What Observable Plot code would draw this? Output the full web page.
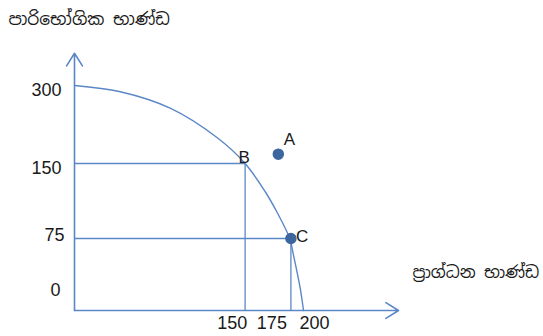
<!DOCTYPE html>
<html>
<head>
<meta charset="utf-8">
<script src="https://cdn.jsdelivr.net/npm/d3@7"></script>
<script src="https://cdn.jsdelivr.net/npm/@observablehq/plot@0.6"></script>
<style>
  html, body { margin: 0; padding: 0; background: #fff; }
  #chart svg { display: block; }
</style>
</head>
<body>
<div id="chart"></div>
<script>
// ---- data ----
const yTitle = "පාරිභෝගික භාණ්ඩ";
const xTitle = "ප්‍රාග්ධන භාණ්ඩ";
const yTicks = [0, 75, 150, 300];
const xTicks = [150, 175, 200];
const axisEnds = {x: 283, y: 362};
// production possibility frontier (capital, consumer)
const frontierX = [0, 40, 84, 125, 149, 167, 177, 188, 191, 197, 200];
const frontierY = [300, 288, 256, 199, 150, 121, 101, 75, 59, 24, 0];
const pointNames = ["A", "B", "C"];
const pointX = [178, 149, 189];
const pointY = [168, 150, 75];
const pointDot = [true, false, true];

const frontier = frontierX.map((x, i) => ({x, y: frontierY[i]}));
const points = pointNames.map((name, i) => ({name, x: pointX[i], y: pointY[i], dot: pointDot[i]}));
const guides = points.filter(p => p.name !== "A");

const blue = "#5b87c7";
const dotBlue = "#3d669f";
const ink = "#1a1a1a";
const font = "Liberation Sans, Arial, sans-serif";
const siFont = "'Noto Sans Sinhala', 'Iskoola Pota', 'Noto Sans', sans-serif";

const xLabelDx = {150: -14, 175: -3, 200: 11};

// the drawing is schematic: tick values are not evenly spaced on the y axis
const yWarp = d3.scaleLinear().domain([0, 75, 150, 300]).range([0, 72, 147, 225]);

const chart = Plot.plot({
  width: 543,
  height: 336,
  margin: 0,
  style: {fontFamily: font, background: "#fff"},
  x: {domain: [0, 200], range: [74, 303], axis: null},
  y: {transform: yWarp, domain: [0, 225], range: [310, 85], axis: null},
  marks: [
    // guide lines
    Plot.link(guides, {x1: 0, y1: "y", x2: "x", y2: "y", stroke: blue, strokeWidth: 1.3}),
    Plot.link(guides, {x1: "x", y1: 0, x2: "x", y2: "y", stroke: blue, strokeWidth: 1.3}),
    // frontier
    Plot.line(frontier, {x: "x", y: "y", curve: "catmull-rom", stroke: blue, strokeWidth: 1.4}),
    // axes with arrows
    Plot.arrow([{}], {x1: 0, y1: 0, x2: 0, y2: axisEnds.y, stroke: blue, strokeWidth: 1.6, headLength: 14, headAngle: 64}),
    Plot.arrow([{}], {x1: 0, y1: 0, x2: axisEnds.x, y2: 0, stroke: blue, strokeWidth: 1.6, headLength: 14, headAngle: 64}),
    // dots
    Plot.dot(points.filter(p => p.dot), {x: "x", y: "y", r: 5, fill: dotBlue, stroke: dotBlue}),
    // point labels
    Plot.text(points.filter(p => p.name === "A"), {x: "x", y: "y", text: "name", dx: 11, dy: -15, fontSize: 17, fill: ink}),
    Plot.text(points.filter(p => p.name === "B"), {x: "x", y: "y", text: "name", dx: -1, dy: -6, fontSize: 17, fill: ink}),
    Plot.text(points.filter(p => p.name === "C"), {x: "x", y: "y", text: "name", dx: 5, dy: -2, textAnchor: "start", fontSize: 17, fill: ink}),
    // y tick labels
    Plot.text(yTicks.filter(v => v >= 150), {x: 0, y: d => d, text: d => String(d), dx: -13, dy: 5, textAnchor: "end", fontSize: 18, fill: ink}),
    Plot.text(yTicks.filter(v => v === 75), {x: 0, y: d => d, text: d => String(d), dx: -10, dy: -3, textAnchor: "end", fontSize: 18, fill: ink}),
    Plot.text(yTicks.filter(v => v === 0), {x: 0, y: d => d, text: d => String(d), dx: -14, dy: -20, textAnchor: "end", fontSize: 18, fill: ink}),
    // x tick labels
    ...xTicks.map(v => Plot.text([v], {x: d => d, y: 0, text: d => String(d), dx: xLabelDx[v], dy: 13, fontSize: 18, fill: ink})),
    // axis titles
    Plot.text([yTitle], {frameAnchor: "top-left", text: d => d, dx: 8, dy: 12, textAnchor: "start", fontSize: 17, fill: ink, fontFamily: siFont}),
    Plot.text([xTitle], {x: axisEnds.x, y: 0, text: d => d, dx: 14, dy: -38, textAnchor: "start", fontSize: 16.5, fill: ink, fontFamily: siFont})
  ]
});
document.getElementById("chart").append(chart);
</script>
</body>
</html>
